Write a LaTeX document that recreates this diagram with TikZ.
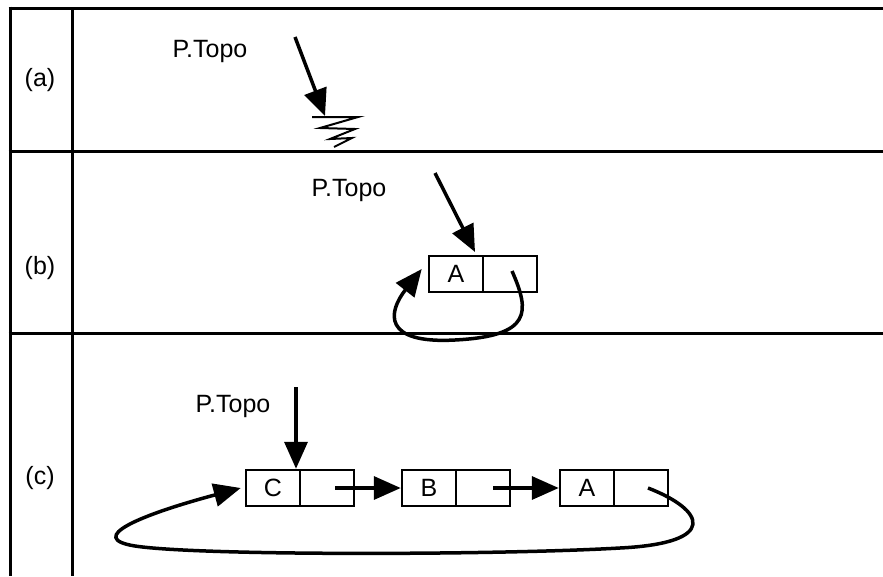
\documentclass[tikz,border=0pt]{standalone}
\usepackage{fontspec}
\setmainfont{Liberation Sans}
\usetikzlibrary{arrows.meta}
\begin{document}
\begin{tikzpicture}[x=1pt,y=-1pt,
  grid/.style={line width=3pt},
  lbl/.style={font=\fontsize{25}{30}\selectfont, inner sep=0pt},
  cell/.style={draw, line width=2.5pt, minimum width=54pt, minimum height=36pt, inner sep=0pt, font=\fontsize{25}{30}\selectfont},
  ptr/.style={line width=3.5pt, -{Triangle[length=27pt,width=23pt]}},
  loop/.style={line width=3.5pt, -{Triangle[length=27pt,width=23pt]}}
]
\useasboundingbox (0,0) rectangle (883,576);
% table
\draw[grid] (8.5,8) -- (883,8);
\draw[grid] (8.5,151) -- (883,151);
\draw[grid] (8.5,333) -- (883,333);
\draw[grid] (10,6.5) -- (10,576);
\draw[grid] (72,8) -- (72,576);
\node[lbl] (la) at (40,80) {(a)};
\node[lbl] (lb) at (40,268) {(b)};
\node[lbl] (lc) at (40,478) {(c)};
% (a)
\node[lbl] (ta) at (210,51) {P.Topo};
\coordinate (a0) at (295,37);
\coordinate (g) at (325,116);
\draw[ptr] (a0) -- (g);
\draw[line width=2pt, line join=miter] (312,117) -- (358,117) -- (320,128) -- (355,129) -- (330,139) -- (352,138) -- (334,147);
% (b)
\node[lbl] (tb) at (349,190) {P.Topo};
\node[cell] (bA) at (456,274) {A};
\node[cell] (bAn) at (510,274) {};
\coordinate (b0) at (435,173);
\coordinate (bt) at (475,252);
\draw[ptr] (b0) -- (bt);
\draw[loop] ([xshift=2pt,yshift=3pt]bAn.center) .. controls (530,312) and (532,336) .. (455,340)
  .. controls (382,344) and (388,312) .. ([xshift=-6pt,yshift=5pt]bA.west);
% (c)
\node[lbl] (tc) at (233,406) {P.Topo};
\node[cell] (cC) at (273,488) {C};
\node[cell] (cCn) at (327,488) {};
\node[cell] (cB) at (429,488) {B};
\node[cell] (cBn) at (483,488) {};
\node[cell] (cA) at (587,488) {A};
\node[cell] (cAn) at (641,488) {};
\coordinate (c0) at (296,387);
\draw[ptr] (c0) -- (cC.north -| c0);
\draw[ptr] ([xshift=8pt]cCn.center) -- (cB.west);
\draw[ptr] ([xshift=10pt]cBn.center) -- (cA.west);
\draw[loop] ([xshift=7pt]cAn.center) .. controls (705,510) and (720,543) .. (620,548)
  .. controls (500,555) and (200,556) .. (135,546)
  .. controls (85,538) and (140,515) .. ([xshift=-4pt]cC.west);
\end{tikzpicture}
\end{document}
